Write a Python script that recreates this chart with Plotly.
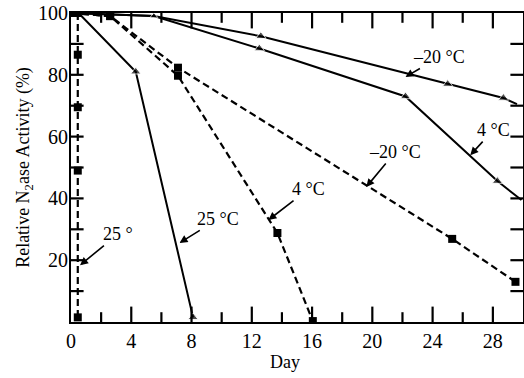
import plotly.graph_objects as go

# ---- data ----
days_m20_solid = [0, 5.5, 12.6, 22.3, 25.0, 28.7, 29.6]
act_m20_solid  = [100, 99, 92.5, 80.5, 77, 72.5, 70.5]
mk_m20_solid   = [0, 7, 9, 0, 9, 9, 0]

days_4_solid = [0, 5.5, 12.5, 22.2, 28.3, 29.9]
act_4_solid  = [100, 99, 88.5, 73, 45.6, 39.5]
mk_4_solid   = [0, 7, 9, 9, 9, 0]

days_25_solid = [0.5, 4.3, 8.1]
act_25_solid  = [100, 81, 1.5]
mk_25_solid   = [0, 9, 9]

days_25_dash = [0.45, 0.45, 0.45, 0.45, 0.45]
act_25_dash  = [100, 86.5, 69.5, 49, 1.5]

days_4_dash = [0, 2.6, 7.1, 13.7, 16.05]
act_4_dash  = [100, 99, 79.7, 28.8, 0.3]

days_m20_dash = [0, 2.6, 7.1, 25.3, 29.5]
act_m20_dash  = [100, 99, 82.3, 26.9, 13]

x_ticks = [0, 4, 8, 12, 16, 20, 24, 28]
x_minor = [2, 6, 10, 14, 18, 22, 26]
y_ticks = [20, 40, 60, 80, 100]
y_minor = [10, 30, 50, 70, 90]

X_RANGE = [0, 30]
Y_RANGE = [0, 100]
FONT = "Liberation Serif"
W, H = 524, 378
ML, MR, MT, MB = 71, 1, 13, 56

fig = go.Figure()

def solid(x, y, sizes):
    fig.add_trace(go.Scatter(x=x, y=y, mode="lines+markers",
                             line=dict(color="black", width=2),
                             marker=dict(symbol="triangle-up", size=sizes, color="black"),
                             showlegend=False, hoverinfo="skip"))

def dashed(x, y):
    fig.add_trace(go.Scatter(x=x, y=y, mode="lines+markers",
                             line=dict(color="black", width=2.2, dash="7px,4px"),
                             marker=dict(symbol="square", size=8, color="black"),
                             showlegend=False, hoverinfo="skip"))

solid(days_m20_solid, act_m20_solid, mk_m20_solid)
solid(days_4_solid, act_4_solid, mk_4_solid)
solid(days_25_solid, act_25_solid, mk_25_solid)
dashed(days_25_dash, act_25_dash)
dashed(days_4_dash, act_4_dash)
dashed(days_m20_dash, act_m20_dash)

# inside tick marks: line markers centred on the frame, clipped by the plot area
def tick_markers(xs, ys, symbol, size):
    fig.add_trace(go.Scatter(x=xs, y=ys, mode="markers", cliponaxis=True,
                             marker=dict(symbol=symbol, size=size, color="black",
                                         line=dict(color="black", width=2.2)),
                             showlegend=False, hoverinfo="skip"))

xt_major = x_ticks[1:]
tick_markers(xt_major * 2, [Y_RANGE[0]] * len(xt_major) + [Y_RANGE[1]] * len(xt_major),
             "line-ns-open", 22)
tick_markers(x_minor * 2, [Y_RANGE[0]] * len(x_minor) + [Y_RANGE[1]] * len(x_minor),
             "line-ns-open", 14)
yt_all = y_ticks[:-1] + y_minor
tick_markers([X_RANGE[0]] * len(yt_all) + [X_RANGE[1]] * len(yt_all), yt_all * 2,
             "line-ew-open", 18)

labels = [
    ("–20 °C", 22.2, 79.3, 34, -20),
    ("4 °C", 26.5, 54, 23, -25),
    ("–20 °C", 19.6, 43.7, 29, -35),
    ("4 °C", 13.1, 33, 40, -31),
    ("25 °C", 7.2, 25.6, 39, -24),
    ("25 °", 0.6, 18.4, 38, -31),
]
for t, x, y, ax, ay in labels:
    fig.add_annotation(x=x, y=y, text=t, ax=ax, ay=ay, showarrow=True,
                       arrowhead=2, arrowsize=1, arrowwidth=1.6, arrowcolor="black",
                       font=dict(family=FONT, size=18, color="black"))

fig.add_annotation(x=(285 - ML) / (W - ML - MR), y=-(362 - (H - MB)) / (H - MT - MB),
                   xref="paper", yref="paper", text="Day", showarrow=False,
                   xanchor="center", yanchor="middle",
                   font=dict(family=FONT, size=18, color="black"))

fig.update_xaxes(range=X_RANGE, tickvals=x_ticks, ticks="",
                 showgrid=False, zeroline=False, showline=True, linecolor="black",
                 linewidth=1.8, mirror=True,
                 tickfont=dict(family=FONT, size=20, color="black"))
fig.update_yaxes(range=Y_RANGE, tickvals=y_ticks, ticks="", ticklabelstandoff=-3,
                 showgrid=False, zeroline=False, showline=True, linecolor="black",
                 linewidth=1.8, mirror=True,
                 tickfont=dict(family=FONT, size=20, color="black"),
                 title=dict(text="Relative N<sub>2</sub>ase Activity (%)", standoff=4,
                            font=dict(family=FONT, size=18, color="black")))

fig.update_layout(template="none", width=W, height=H,
                  margin=dict(l=ML, r=MR, t=MT, b=MB, autoexpand=False),
                  paper_bgcolor="white", plot_bgcolor="white")

fig.write_html("out.html", config={"displayModeBar": False},
               post_script="document.body.style.margin='0';")
